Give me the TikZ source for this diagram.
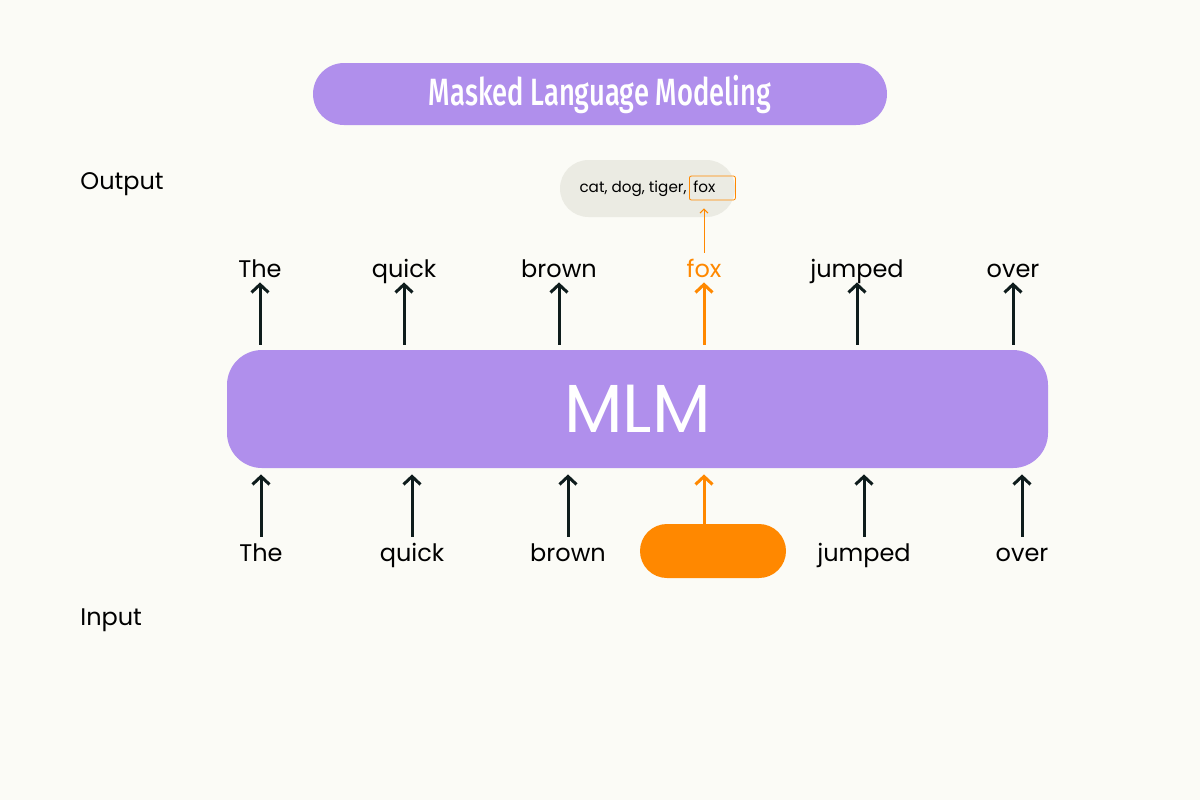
\documentclass[tikz,border=0pt]{standalone}
\usepackage{fontspec}
\setmainfont{Poppins}
\newfontfamily\titlefont[FakeStretch=0.72]{Fira Sans Medium}
\usetikzlibrary{arrows.meta,positioning}
\definecolor{paper}{HTML}{FBFBF6}
\definecolor{mlmpurple}{HTML}{B08FEC}
\definecolor{maskorange}{HTML}{FF8800}
\definecolor{arrowdark}{HTML}{0E1C1C}
\definecolor{bubblegray}{HTML}{EBEBE3}
\tikzset{
  word/.style={inner sep=0pt,text height=12pt,text depth=2.5pt,font=\fontsize{12}{14}\selectfont},
  up/.style={-{Straight Barb[length=4pt,width=8.5pt]},line width=1.5pt,draw=arrowdark},
  pill/.style={fill=mlmpurple,text=white,inner sep=0pt}
}
\begin{document}
\begin{tikzpicture}[x=0.5pt,y=-0.5pt]
\fill [paper] (0,0) rectangle (1200,800);
\useasboundingbox (0,0) rectangle (1200,800);
% title
\node [pill,minimum width=287pt,minimum height=31pt,rounded corners=15.5pt,
  font=\titlefont\fontsize{19}{22}\selectfont] (title) at (600,94) {Masked Language Modeling};
% side labels
\node [word,anchor=base west] (outlabel) at (80,189) {Output};
\node [word,anchor=base west] (inlabel) at (80,625) {Input};
% model
\node [pill,minimum width=410.5pt,minimum height=59pt,rounded corners=17.5pt,
  font=\fontsize{34}{38}\selectfont] (mlm) at (637.5,409) {MLM};
% output words
\foreach \nm/\x/\w in {T/260/The,q/404/quick,b/559/brown,j/857/jumped,o/1013/over} {
  \node [word,anchor=base] (o\nm) at (\x,277) {\w};
  \draw [up,shorten <=2.5pt] (mlm.north -| o\nm) -- (o\nm.south);
}
\node [word,anchor=base,text=maskorange] (ofox) at (704,277) {fox};
\draw [up,draw=maskorange,shorten <=2.5pt] (mlm.north -| ofox) -- (ofox.south);
% input words
\foreach \nm/\x/\w in {T/261/The,q/412/quick,b/568/brown,j/864/jumped,o/1022/over} {
  \node [word,anchor=base] (i\nm) at (\x,561) {\w};
  \draw [up,shorten >=3pt] (i\nm.north) -- (i\nm.north |- mlm.south);
}
\node [fill=maskorange,minimum width=73pt,minimum height=27pt,rounded corners=13.5pt] (mask) at (713,551) {};
\draw [up,draw=maskorange,shorten >=3pt] (mask.north -| ofox) -- (ofox |- mlm.south);
% candidates
\node [fill=bubblegray,minimum width=87.5pt,minimum height=28.5pt,rounded corners=14.25pt] (bubble) at (647.5,188.5) {};
\node [inner sep=0pt,text height=5.5pt,text depth=1.5pt,font=\fontsize{7.6}{9}\selectfont,anchor=base east] (cands) at (687,192) {cat, dog, tiger,};
\node [draw=maskorange,line width=0.4pt,rounded corners=1pt,inner xsep=2pt,inner ysep=2.5pt,
  text width=19pt,align=left,text height=5.5pt,text depth=1.5pt,font=\fontsize{7.6}{9}\selectfont,
  right=1pt of cands] (foxbox) {fox};
\draw [-{Straight Barb[length=2pt,width=4pt]},draw=maskorange,line width=0.5pt,shorten >=4pt] (ofox.north) -- (ofox.north |- foxbox.south);
\end{tikzpicture}
\end{document}
